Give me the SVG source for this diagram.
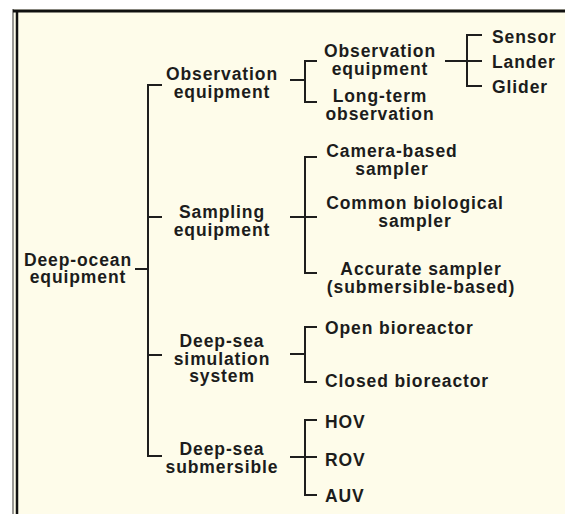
<svg xmlns="http://www.w3.org/2000/svg" width="565" height="514" viewBox="0 0 565 514">
<style>
text{font-family:"Liberation Sans",Arial,sans-serif;font-weight:bold;font-size:17.5px;letter-spacing:0.9px;fill:#1c1c1c}
.c{text-anchor:middle}
.conn path{fill:none;stroke:#1e1e1e;stroke-width:2}
</style>
<rect x="0" y="0" width="565" height="514" fill="#ffffff"/>
<rect x="12" y="9" width="553" height="505" fill="#FEFCEA"/>
<g id="frame" fill="none">
<line x1="13" y1="9" x2="13" y2="514" stroke="#777" stroke-width="1.5"/>
<line x1="17" y1="10" x2="17" y2="514" stroke="#111" stroke-width="2.5"/>
<line x1="13" y1="11" x2="565" y2="11" stroke="#111" stroke-width="3"/>
</g>
<g class="conn" id="connectors">
<path d="M135 269H148"/>
<path d="M162 85H148V456H162M148 217H162M148 355H162"/>
<path d="M290 80H305M317 61H305V102H317"/>
<path d="M290 217H317M317 157H305V273H317"/>
<path d="M290 354H305M317 327H305V382H317"/>
<path d="M290 457H317M317 420H305V495H317"/>
<path d="M445 61H482M482 35H467V86H482"/>
</g>
<g id="deep-ocean-equipment"><text class="c" x="78" y="266">Deep-ocean</text><text class="c" x="78" y="283">equipment</text></g>
<g id="observation-equipment"><text class="c" x="222" y="80">Observation</text><text class="c" x="222" y="98">equipment</text></g>
<g id="sampling-equipment"><text class="c" x="222" y="218">Sampling</text><text class="c" x="222" y="236">equipment</text></g>
<g id="deep-sea-simulation-system"><text class="c" x="222" y="347">Deep-sea</text><text class="c" x="222" y="364.5">simulation</text><text class="c" x="222" y="382">system</text></g>
<g id="deep-sea-submersible"><text class="c" x="222" y="455">Deep-sea</text><text class="c" x="222" y="473">submersible</text></g>
<g id="observation-equipment-2"><text class="c" x="380" y="57">Observation</text><text class="c" x="380" y="75">equipment</text></g>
<g id="long-term-observation"><text class="c" x="380" y="102">Long-term</text><text class="c" x="380" y="120">observation</text></g>
<g id="sensor"><text x="492" y="43">Sensor</text></g>
<g id="lander"><text x="492" y="68">Lander</text></g>
<g id="glider"><text x="492" y="93">Glider</text></g>
<g id="camera-based-sampler"><text class="c" x="392" y="157">Camera-based</text><text class="c" x="392" y="174.5">sampler</text></g>
<g id="common-biological-sampler"><text class="c" x="415" y="209">Common biological</text><text class="c" x="415" y="226.5">sampler</text></g>
<g id="accurate-sampler"><text class="c" x="421" y="275">Accurate sampler</text><text class="c" x="421" y="293">(submersible-based)</text></g>
<g id="open-bioreactor"><text x="325" y="334">Open bioreactor</text></g>
<g id="closed-bioreactor"><text x="325" y="387">Closed bioreactor</text></g>
<g id="hov"><text x="325" y="428">HOV</text></g>
<g id="rov"><text x="325" y="466">ROV</text></g>
<g id="auv"><text x="325" y="502">AUV</text></g>
</svg>
